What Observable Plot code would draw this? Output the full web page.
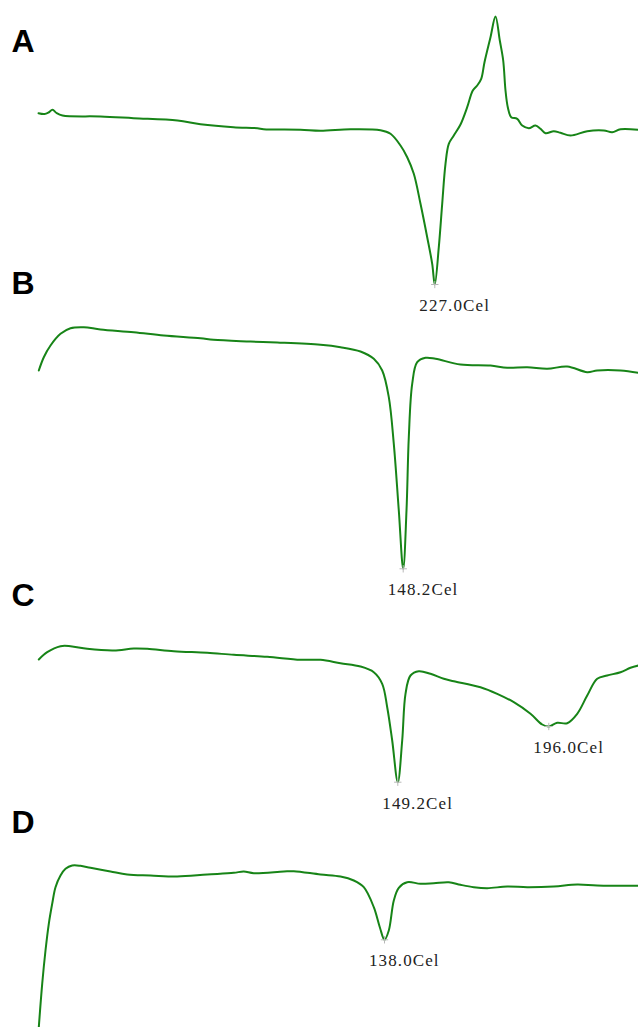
<!DOCTYPE html>
<html>
<head>
<meta charset="utf-8">
<script src="https://cdn.jsdelivr.net/npm/d3@7"></script>
<script src="https://cdn.jsdelivr.net/npm/@observablehq/plot@0.6"></script>
<style>
  html, body { margin: 0; padding: 0; background: #fff; }
  #chart { position: relative; width: 638px; height: 1027px; overflow: hidden; background: #fff; }
  #chart svg { position: absolute; left: 0; }
</style>
</head>
<body>
<div id="chart"></div>
<script>
// Panel names
const panelNames = ["A", "B", "C", "D"];

// Curve A (relative position, relative heat-flow signal; up = exothermic)
const aX = [0,6,10,14,18,24,62,95,139,162,195,219,225,262,282,312,342,352,362,368.7,375.3,382,388.7,393.7,396.3,400.3,403.7,407,410.3,415.3,422,428.7,434.3,438.7,442.7,446,452,457,461.3,464.7,467,469.3,472.7,478.7,483.7,490.3,497,502,507,515.3,522,532,548.7,565.3,573.7,582,600];
const aSignal = [152.3,151.5,153,155.7,152.5,150,149,147.3,145,141.3,138.3,137.3,136.3,135.7,134.7,136.3,135.3,131.7,120,108.3,91.7,61.7,28.3,1.7,-19,18.3,61.7,101.7,121.7,130,141,158.3,175,180,186.7,203.3,228.3,249,225,205,175,158.3,148.3,146.7,140,137.3,140,136.7,132.3,134.3,132.7,130,134.3,135,133.3,136.3,135.7];

// Curve B
const bX = [0.3,5.3,12,22,32,45.3,62,95.3,125.3,162,175,212,238.7,282,302,322,335.3,343.7,350.3,355.3,360.3,364.7,368,370.3,373.7,378.7,387,397,422,452,468.7,488.7,508.7,528.7,548.7,558.7,582,600];
const bSignal = [208,221.3,233,244.7,250.3,251.3,249,246.3,243,240.3,238.7,237,236,233.7,231.3,227,219.7,208,181.3,134.7,68,9.7,68,141.3,194.7,216.3,220.7,219.7,214,213,210.7,211.3,209.7,212,206.3,208,208,205.7];

// Curve C
const cX = [0.3,8.7,22,32,48.7,75.3,95.3,108.7,135.3,168.7,195.3,228.7,262,282,302,322,335.3,343.7,348.7,353.7,359.3,363.7,367,372,380.3,392,405.3,415.3,442,458.7,475.3,492,503.7,510.3,518.7,528.7,538.7,548.7,558.7,568.7,582,592,600];
const cSignal = [147,154.3,160.3,160.3,157.7,156,158,157.7,155.3,153.7,151.7,149.7,146.7,146.7,143.3,140,134.3,122.7,99.3,66,24.3,66,112.7,131,135.3,132.7,127.7,125.3,119.3,112.7,104.3,92.7,82,80,83.7,83.3,92.7,111,127.7,131,134.3,138.7,141];

// Curve D
const dX = [0.3,3.7,7,10.3,13.7,17,22,27,33.7,42,52,72,88.7,112,138.7,168.7,195.3,205.3,215.3,245.3,255.3,282,302,315.3,325.3,335.3,341.3,346,350.3,355.3,360.3,368.7,382,395.3,410.3,422,435.3,448.7,468.7,488.7,515.3,538.7,558.7,600];
const dSignal = [0.3,43.7,77,103.7,123.7,140.3,152,158.7,162,161.7,159.7,156,153,152,151,153,154.7,156,154.3,156,156.3,153,151,147,140.3,120.3,100.3,87.7,97,127,139.7,145.3,143.7,144.3,145.3,142.7,140.3,139.3,141,140.3,141,143,142,141.7];

// Peak annotations
const peakPanel  = ["A", "B", "C", "C", "D"];
const peakX      = [396.3, 364.7, 359.3, 510.3, 346];
const peakSignal = [-19, 9.7, 24.3, 80, 87.7];
const peakLabel  = ["227.0Cel", "148.2Cel", "149.2Cel", "196.0Cel", "138.0Cel"];

// Layout (not data)
const layout = {
  A: {top: 0,   height: 265, letterDy: 41},
  B: {top: 265, height: 313, letterDy: 18},
  C: {top: 578, height: 228, letterDy: 17},
  D: {top: 806, height: 221, letterDy: 16}
};
const curves = {A: [aX, aSignal], B: [bX, bSignal], C: [cX, cSignal], D: [dX, dSignal]};
const green = "#178417";

const chart = document.getElementById("chart");

for (const name of panelNames) {
  const {top, height, letterDy} = layout[name];
  const [xs, ss] = curves[name];
  const data = xs.map((x, i) => ({x, s: ss[i]}));
  const peaks = peakPanel.map((p, i) => ({p, x: peakX[i], s: peakSignal[i], label: peakLabel[i]}))
                         .filter(d => d.p === name);
  const svg = Plot.plot({
    width: 638,
    height,
    marginLeft: 38,
    marginRight: 0,
    marginTop: 0,
    marginBottom: 0,
    x: {domain: [0, 600], axis: null},
    y: {domain: [0, height], axis: null},
    style: {overflow: "visible", background: "transparent"},
    marks: [
      Plot.line(data, {x: "x", y: "s", stroke: green, strokeWidth: 2, curve: "catmull-rom"}),
      Plot.dot(peaks, {x: "x", y: "s", symbol: "plus", r: 2.5, stroke: "#b8b8b8", strokeWidth: 1}),
      Plot.text(peaks, {
        x: "x", y: "s", text: "label",
        dx: -15.5, dy: 21, textAnchor: "start", lineAnchor: "middle",
        fontFamily: "Liberation Serif", fontSize: 17, fill: "#222"
      }),
      Plot.text([name], {
        frameAnchor: "top-left", text: d => d,
        dx: -27, dy: letterDy, textAnchor: "start", lineAnchor: "middle",
        fontFamily: "Liberation Sans", fontWeight: "bold", fontSize: 32, fill: "#000"
      })
    ]
  });
  svg.style.top = top + "px";
  d3.select(svg).selectAll("text")
    .filter(function () { return this.textContent.endsWith("Cel"); })
    .style("letter-spacing", "1.1px");
  chart.appendChild(svg);
}
</script>
</body>
</html>
